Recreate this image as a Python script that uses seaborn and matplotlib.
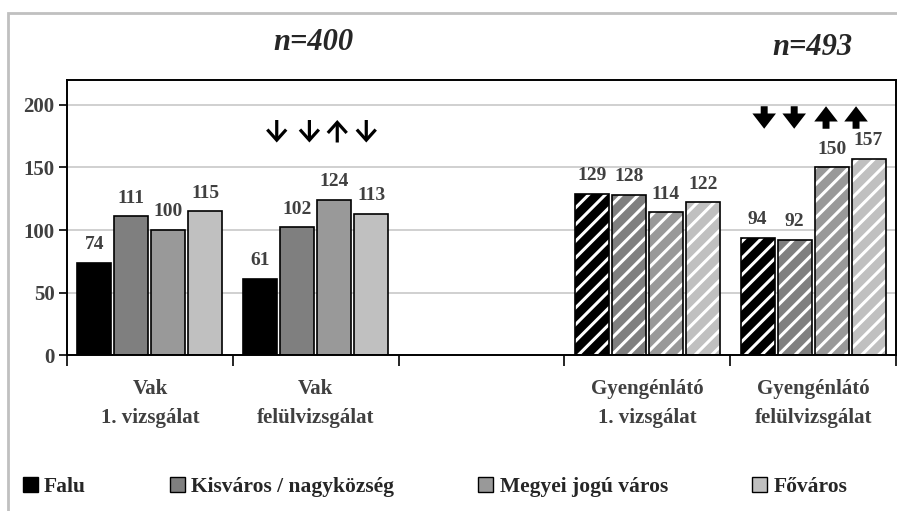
import numpy as np
import pandas as pd
import matplotlib
matplotlib.use("Agg")
import matplotlib.pyplot as plt
from matplotlib.patches import Rectangle, Patch
import seaborn as sns

# Groups (the blank one separates the two diagnosis blocks)
groups = ["Vak 1", "Vak F", "", "Gy 1", "Gy F"]
group_labels = ["Vak\n1. vizsgálat", "Vak\nfelülvizsgálat", "",
                "Gyengénlátó\n1. vizsgálat", "Gyengénlátó\nfelülvizsgálat"]
settlements = ["Falu", "Kisváros / nagyközség", "Megyei jogú város", "Főváros"]

falu = [74, 61, np.nan, 129, 94]
kisvaros = [111, 102, np.nan, 128, 92]
megyei = [100, 124, np.nan, 114, 150]
fovaros = [115, 113, np.nan, 122, 157]

colors = ["#000000", "#7f7f7f", "#999999", "#c0c0c0"]
sample_sizes = ["n=400", "n=493"]
# direction of change between first examination and re-examination
trend_vak = ["down", "down", "up", "down"]
trend_gy = ["down", "down", "up", "up"]

rows = []
for s, vals in zip(settlements, [falu, kisvaros, megyei, fovaros]):
    for g, v in zip(groups, vals):
        rows.append({"group": g, "settlement": s, "value": v})
df = pd.DataFrame(rows)

sns.set_style("white")
plt.rcParams["font.family"] = ["Liberation Serif", "DejaVu Serif"]
plt.rcParams["hatch.linewidth"] = 2.2

W, H = 897, 511
fig = plt.figure(figsize=(W / 100, H / 100), dpi=100)
ax = fig.add_axes([67 / W, 1 - 355 / H, (896 - 67) / W, (355 - 80) / H])

sns.barplot(data=df, x="group", y="value", hue="settlement", order=groups,
            hue_order=settlements, palette=colors, width=0.892, gap=0.08,
            edgecolor="black", linewidth=1.2, errorbar=None, legend=False,
            saturation=1, ax=ax)

# Hatch the low-vision bars with white stripes, keep a black outline on top
for p in list(ax.patches):
    cx = p.get_x() + p.get_width() / 2
    if cx > 2.5 and p.get_height() > 0:
        p.set_hatch("//")
        p.set_edgecolor("white")
        p.set_linewidth(0)
        ax.add_patch(Rectangle((p.get_x(), p.get_y()), p.get_width(), p.get_height(),
                               fill=False, edgecolor="black", linewidth=1.2,
                               zorder=p.get_zorder() + 0.1))

# Value labels
for cont in ax.containers:
    labels = ["" if np.isnan(b.get_height()) else f"{b.get_height():.0f}" for b in cont]
    ax.bar_label(cont, labels=labels, padding=7, fontsize=14, fontweight="bold", color="#404040")

ax.set_ylim(0, 220)
ax.set_xlim(-0.5, 4.5)
ax.set_yticks([0, 50, 100, 150, 200])
ax.set_yticklabels(["0", "50", "100", "150", "200"], fontsize=15, fontweight="bold", color="#404040")
ax.set_xticks(np.arange(-0.5, 5, 1))
ax.set_xticklabels([])
ax.set_xticks(np.arange(5), minor=True)
ax.set_xticklabels(group_labels, minor=True, fontsize=15, fontweight="bold",
                   color="#404040", linespacing=1.6)
ax.tick_params(axis="x", which="major", direction="out", length=8, width=1.2, color="black", bottom=True)
ax.tick_params(axis="x", which="minor", length=0, pad=17)
ax.tick_params(axis="y", direction="out", length=6, width=1.2, color="black", left=True, pad=3)
ax.set_xlabel("")
ax.set_ylabel("")
ax.grid(axis="y", color="#c8c8c8", linewidth=1.2)
ax.set_axisbelow(True)
for sp in ax.spines.values():
    sp.set_visible(True)
    sp.set_color("black")
    sp.set_linewidth(1.4)


def draw_trend(xs, lo, hi, dirs, style, lw):
    for x, d in zip(xs, dirs):
        start, end = (hi, lo) if d == "down" else (lo, hi)
        ax.annotate("", xy=(x, end), xytext=(x, start),
                    arrowprops=dict(arrowstyle=style, lw=lw, color="black",
                                    shrinkA=0, shrinkB=0, mutation_scale=20,
                                    joinstyle="miter", capstyle="butt"))


# Change indicators: thin for the blind group, bold for low vision
draw_trend([0.765, 0.962, 1.13, 1.305], 170, 188, trend_vak,
           "->,head_length=0.38,head_width=0.34", 2.3)
draw_trend([3.705, 3.886, 4.078, 4.259], 181, 199, trend_gy,
           "-|>,head_length=0.22,head_width=0.17", 5.0)

# Sample sizes
fig.text(313 / W, 1 - 42 / H, sample_sizes[0], ha="center", va="center",
         fontsize=22, fontweight="bold", style="italic")
fig.text(812 / W, 1 - 47 / H, sample_sizes[1], ha="center", va="center",
         fontsize=22, fontweight="bold", style="italic")

handles = [Patch(facecolor=c, edgecolor="black", linewidth=1.0) for c in colors]
fig.legend(handles, settlements, loc="center", bbox_to_anchor=(0.485, 1 - 487 / H),
           ncol=4, frameon=False, handlelength=0.7, handleheight=0.7,
           handletextpad=0.3, columnspacing=3.9,
           prop={"family": "Liberation Serif", "weight": "bold", "size": 15.5})

# Outer chart frame
fig.patches.append(Rectangle((8 / W, -0.1), 2, 1 - 13 / H + 0.1, transform=fig.transFigure,
                             fill=False, edgecolor="#c0c0c0", linewidth=2))

fig.savefig("out.png", dpi=100)
